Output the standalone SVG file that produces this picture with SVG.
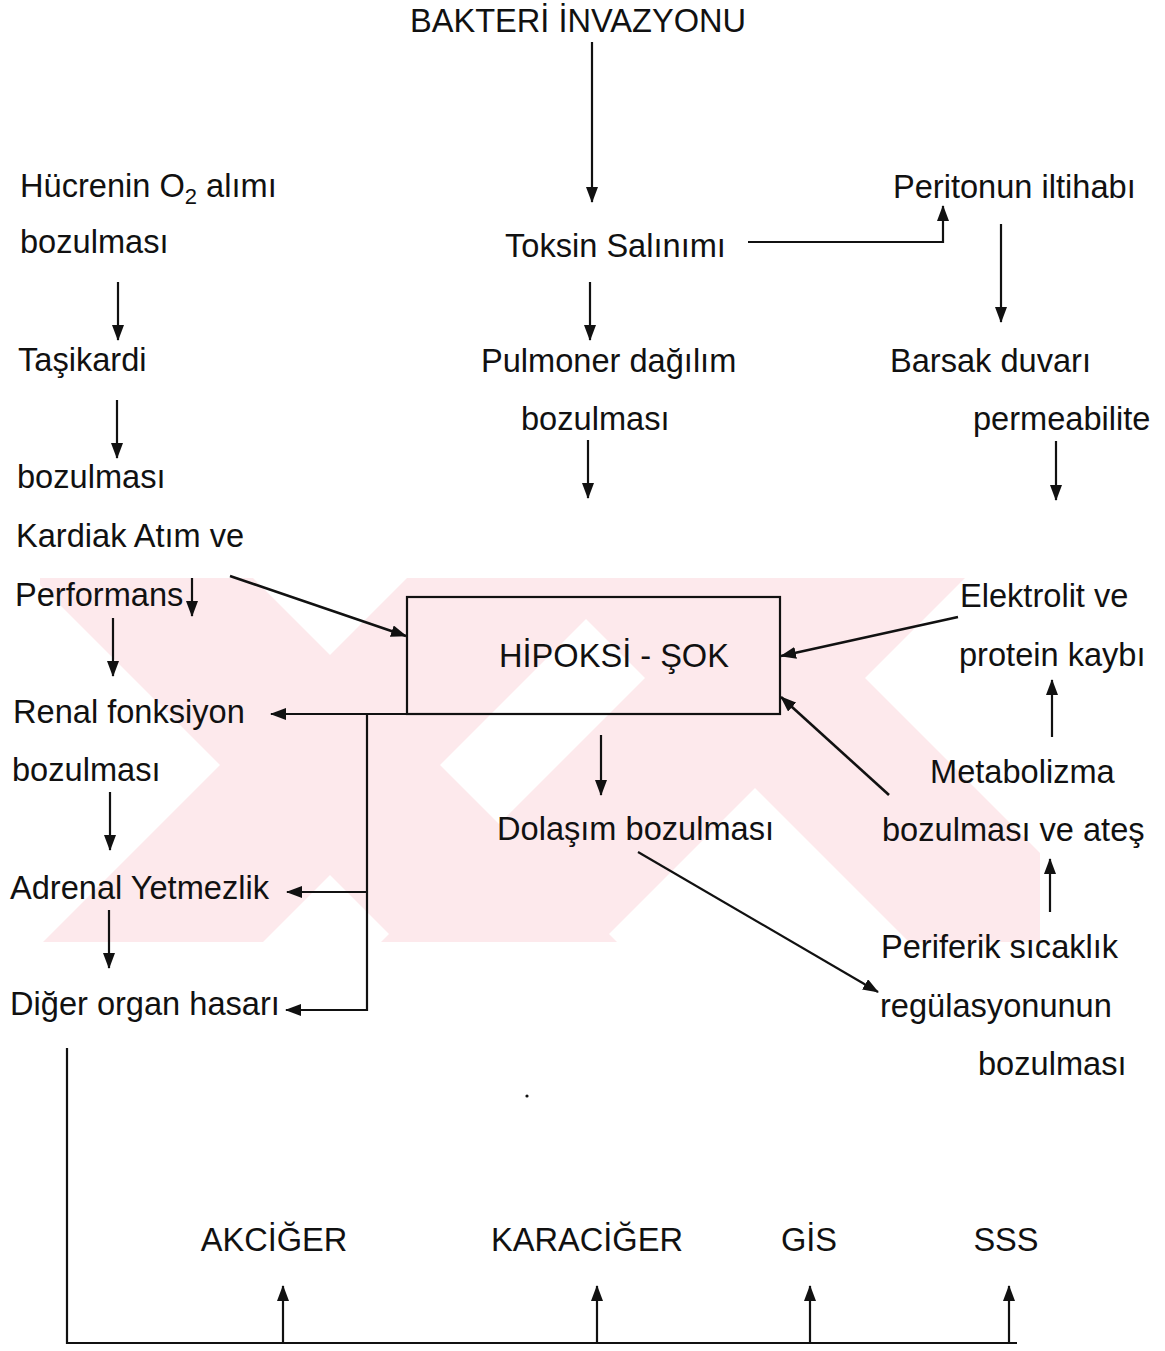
<svg xmlns="http://www.w3.org/2000/svg" width="1165" height="1351" viewBox="0 0 1165 1351">
<defs>
<style>
text{font-family:"Liberation Sans",Arial,sans-serif;font-size:32.6px;fill:#111}
.c{fill:none;stroke:#111;stroke-width:2.2}
.ca{fill:none;stroke:#111;stroke-width:2.2;marker-end:url(#ah)}
.wm{fill:#fde9ec}
</style>
<marker id="ah" viewBox="0 0 16 12" refX="15" refY="6" markerWidth="16" markerHeight="12" orient="auto" markerUnits="userSpaceOnUse">
<path d="M0,0 L16,6 L0,12 z" fill="#111"/>
</marker>
<clipPath id="wmclip"><rect x="40" y="578" width="1000" height="364"/></clipPath>
</defs>
<rect width="1165" height="1351" fill="#fff"/>
<g id="watermark" clip-path="url(#wmclip)">
<polygon class="wm" points="33,578 253,578 617,942 397,942"/>
<polygon class="wm" points="407,578 627,578 263,942 43,942"/>
<polygon class="wm" points="545,578 765,578 1129,942 909,942"/>
<polygon class="wm" points="745,578 965,578 601,942 381,942"/>
</g>
<g id="connectors">
<path class="ca" d="M592,42 V202"/>
<path class="ca" d="M748,242 H943 V206"/>
<path class="ca" d="M590,282 V340"/>
<path class="ca" d="M588,440 V498"/>
<path class="ca" d="M118,282 V340"/>
<path class="ca" d="M117,400 V458"/>
<path class="ca" d="M192,578 V616"/>
<path class="ca" d="M113,618 V676"/>
<path class="ca" d="M110,792 V850"/>
<path class="ca" d="M109,910 V968"/>
<path class="ca" d="M230,576 L406,636" style="stroke-width:2.6"/>
<path class="ca" d="M407,714 H271"/>
<path class="ca" d="M367,714 V1010 H286"/>
<path class="ca" d="M367,892 H287"/>
<path class="ca" d="M601,735 V795"/>
<path class="ca" d="M638,852 L878,992"/>
<path class="ca" d="M1001,224 V322"/>
<path class="ca" d="M1056,441 V500"/>
<path class="ca" d="M958,617 L781,656" style="stroke-width:2.6"/>
<path class="ca" d="M1052,737 V680"/>
<path class="ca" d="M889,795 L781,697" style="stroke-width:2.6"/>
<path class="ca" d="M1050,912 V859"/>
<path class="c" d="M67,1048 V1343 H1017"/>
<path class="ca" d="M283,1343 V1286"/>
<path class="ca" d="M597,1343 V1286"/>
<path class="ca" d="M810,1343 V1286"/>
<path class="ca" d="M1009,1343 V1286"/>
</g>
<g id="n-bakteri"><text x="578" y="32" text-anchor="middle">BAKTERİ İNVAZYONU</text></g>
<g id="n-hucre"><text x="20" y="197">Hücrenin O<tspan font-size="22" dy="7">2</tspan><tspan dy="-7"> alımı</tspan></text><text x="20" y="253">bozulması</text></g>
<g id="n-tasikardi"><text x="18" y="371">Taşikardi</text></g>
<g id="n-kardiak"><text x="17" y="488">bozulması</text><text x="16" y="547">Kardiak Atım ve</text><text x="15" y="606">Performans</text></g>
<g id="n-renal"><text x="13" y="723">Renal fonksiyon</text><text x="12" y="781">bozulması</text></g>
<g id="n-adrenal"><text x="10" y="899">Adrenal Yetmezlik</text></g>
<g id="n-diger"><text x="10" y="1015">Diğer organ hasarı</text></g>
<g id="n-toksin"><text x="505" y="257">Toksin Salınımı</text></g>
<g id="n-pulmoner"><text x="481" y="372">Pulmoner dağılım</text><text x="521" y="430">bozulması</text></g>
<g id="n-hipoksi"><rect x="407" y="597" width="373" height="117" fill="none" stroke="#111" stroke-width="2.2"/><text x="614" y="667" text-anchor="middle">HİPOKSİ - ŞOK</text></g>
<g id="n-dolasim"><text x="497" y="840">Dolaşım bozulması</text></g>
<g id="n-periton"><text x="893" y="198">Peritonun iltihabı</text></g>
<g id="n-barsak"><text x="890" y="372">Barsak duvarı</text><text x="973" y="430">permeabilite</text></g>
<g id="n-elektrolit"><text x="960" y="607">Elektrolit ve</text><text x="959" y="666">protein kaybı</text></g>
<g id="n-metabolizma"><text x="930" y="783">Metabolizma</text><text x="882" y="841">bozulması ve ateş</text></g>
<g id="n-periferik"><text x="881" y="958">Periferik sıcaklık</text><text x="880" y="1017">regülasyonunun</text><text x="978" y="1075">bozulması</text></g>
<g id="n-akciger"><text x="274" y="1251" text-anchor="middle">AKCİĞER</text></g>
<g id="n-karaciger"><text x="587" y="1251" text-anchor="middle">KARACİĞER</text></g>
<g id="n-gis"><text x="809" y="1251" text-anchor="middle">GİS</text></g>
<g id="n-sss"><text x="1006" y="1251" text-anchor="middle">SSS</text></g>
<circle cx="527" cy="1096" r="1.6" fill="#111"/>
</svg>
